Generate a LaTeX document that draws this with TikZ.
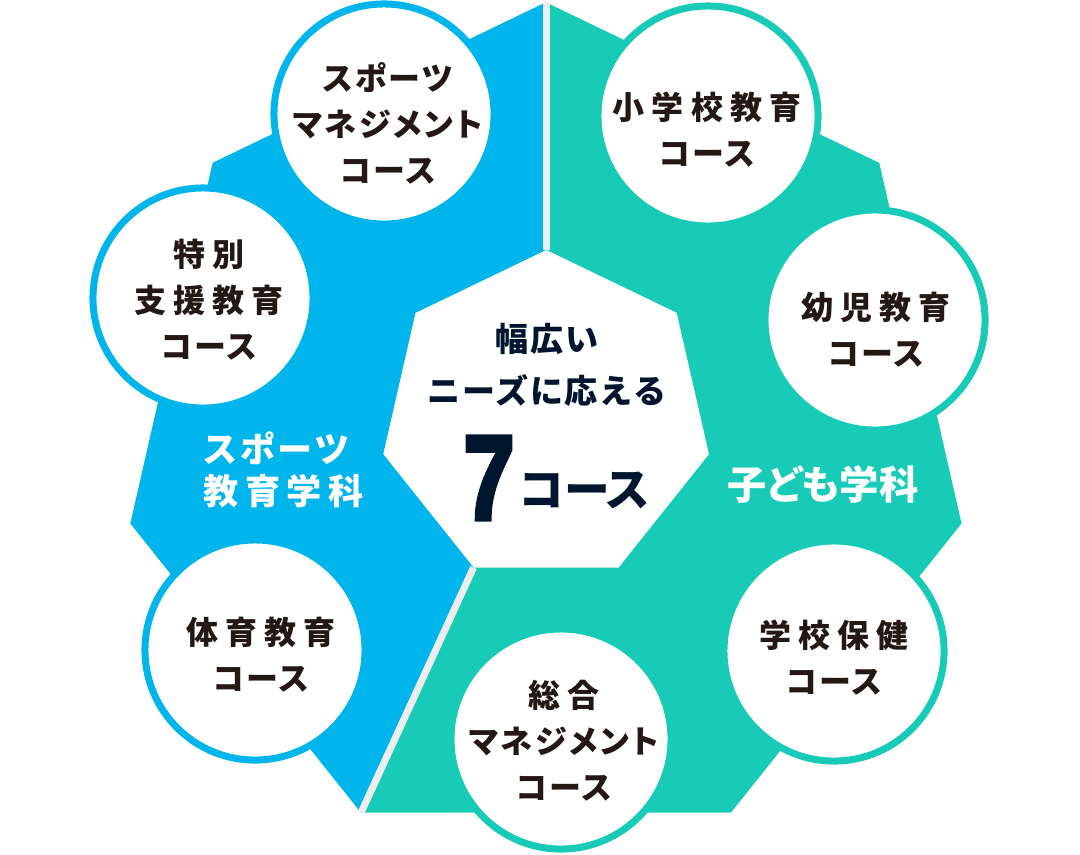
\documentclass[tikz,border=0pt]{standalone}
\usepackage{fontspec}
\usetikzlibrary{shapes.geometric}
\newfontfamily\coursefont{Noto Sans CJK JP}[LetterSpace=22,RawFeature=+palt]
\newfontfamily\kanafont{Noto Sans CJK JP}[LetterSpace=8,RawFeature=+palt]
\newfontfamily\deptfont{Noto Sans CJK JP}[LetterSpace=18,RawFeature=+palt]
\newfontfamily\deptkana{Noto Sans CJK JP}[LetterSpace=10,RawFeature=+palt]
\newfontfamily\plainjp{Noto Sans CJK JP}[RawFeature=+palt]
\newfontfamily\leadfont{Noto Sans CJK JP}[LetterSpace=5]
\newfontfamily\numfont{Liberation Sans}[BoldFeatures={FakeBold=4}]
\newcommand{\kana}[1]{{\kanafont #1}}
\definecolor{sportsblue}{HTML}{00B5EC}
\definecolor{kidsteal}{HTML}{18CBB6}
\definecolor{gapgray}{HTML}{EBEDEF}
\definecolor{inkblack}{HTML}{231815}
\definecolor{navy}{HTML}{00162F}

\begin{document}
\begin{tikzpicture}[x=0.01cm,y=-0.01cm,
  hepta/.style={regular polygon,regular polygon sides=7,inner sep=0,outer sep=0},
  course/.style={circle,fill=white,line width=0.07cm,minimum size=2.2cm,inner sep=0},
  coursetext/.style={font=\coursefont\bfseries\fontsize{9.1}{13.1}\selectfont,text=inkblack,align=center,inner sep=0},
  dept/.style={text=white,inner sep=0}]
\useasboundingbox (0,0) rectangle (1080,854);

\node[hepta,fill=kidsteal,minimum size=8.52cm] (outer) at (546,428.6) {};
\node[hepta,fill=white,minimum size=3.34cm] (inner) at (546,417) {};
\fill[sportsblue] (outer.corner 1) -- (outer.corner 2) -- (outer.corner 3) -- (outer.corner 4)
  -- (inner.corner 4) -- (inner.corner 3) -- (inner.corner 2) -- (inner.corner 1) -- cycle;
\draw[gapgray,line width=0.07cm] (outer.corner 1) -- (inner.corner 1);
\draw[gapgray,line width=0.07cm] (inner.corner 4) -- (outer.corner 4);

\node[course,draw=sportsblue] (mgmt) at (384,114) {};
\node[course,draw=kidsteal] (primary) at (708,116) {};
\node[course,draw=sportsblue] (special) at (203,298) {};
\node[course,draw=kidsteal] (infant) at (875,320) {};
\node[course,draw=sportsblue] (physed) at (255,650) {};
\node[course,draw=kidsteal] (health) at (834,651) {};
\node[course,draw=kidsteal] (general) at (561,739) {};

\node[coursetext] (mgmt-t) at (388,123) {\kana{スポーツ}\\\kana{マネジメント}\\\kana{コース}};
\node[coursetext] (primary-t) at (707,130) {小学校教育\\\kana{コース}};
\node[coursetext] (special-t) at (209,300) {特別\\支援教育\\\kana{コース}};
\node[coursetext] (infant-t) at (876,330) {幼児教育\\\kana{コース}};
\node[coursetext] (physed-t) at (261,655) {体育教育\\\kana{コース}};
\node[coursetext] (health-t) at (834,658) {学校保健\\\kana{コース}};
\node[coursetext] (general-t) at (564,741) {総合\\\kana{マネジメント}\\\kana{コース}};

\node[dept,font=\deptfont\bfseries\fontsize{10}{12}\selectfont,align=left,anchor=west] (sportsdept) at (203,470) {{\deptkana スポーツ}\\教育学科};
\node[dept,font=\plainjp\bfseries\fontsize{11.2}{12}\selectfont] (kidsdept) at (823,484) {子ども学科};

\node[text=navy,font=\leadfont\bfseries\fontsize{9.4}{14.8}\selectfont,align=center,inner sep=0] (lead) at (547,365) {幅広い\\ニーズに応える};
\node[text=navy,font=\numfont\bfseries\fontsize{34}{34}\selectfont,inner sep=0] (seven) at (489,478) {\scalebox{0.77}[1]{7}};
\node[text=navy,font=\plainjp\bfseries\fontsize{13}{13}\selectfont,inner sep=0] (kosu) at (585,490) {コース};
\end{tikzpicture}
\end{document}
